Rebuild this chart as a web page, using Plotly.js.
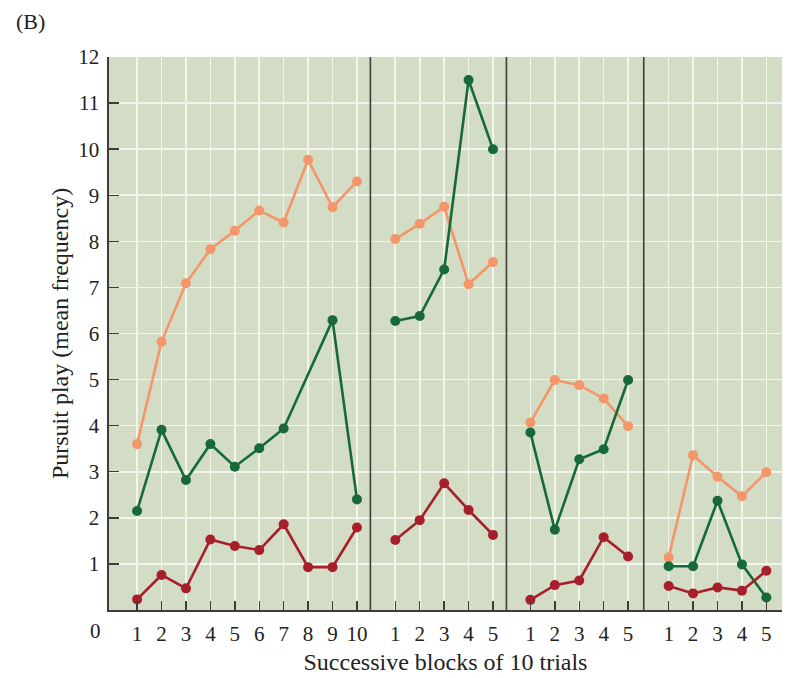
<!DOCTYPE html>
<html>
<head>
<meta charset="utf-8">
<script src="https://cdn.plot.ly/plotly-3.0.1.min.js"></script>
<style>html,body{margin:0;padding:0;background:#fff;}#chart{width:788px;height:678px;}</style>
</head>
<body>
<div id="chart"></div>
<script>
// Block labels for each of the four phases
var blocksA = [1,2,3,4,5,6,7,8,9,10];
var blocksB = [1,2,3,4,5];
var blocksC = [1,2,3,4,5];
var blocksD = [1,2,3,4,5];

// Series values per phase (mean frequency)
var orangeA = [3.6, 5.82, 7.09, 7.83, 8.23, 8.67, 8.41, 9.77, 8.74, 9.30];
var greenA  = [2.15, 3.91, 2.82, 3.60, 3.11, 3.51, 3.94, null, 6.29, 2.40];
var redA    = [0.23, 0.76, 0.47, 1.53, 1.39, 1.30, 1.86, 0.93, 0.93, 1.79];

var orangeB = [8.05, 8.38, 8.75, 7.07, 7.55];
var greenB  = [6.27, 6.38, 7.39, 11.50, 10.0];
var redB    = [1.52, 1.95, 2.75, 2.17, 1.63];

var orangeC = [4.07, 4.99, 4.88, 4.59, 3.99];
var greenC  = [3.85, 1.74, 3.27, 3.49, 4.99];
var redC    = [0.22, 0.54, 0.64, 1.58, 1.16];

var orangeD = [1.14, 3.36, 2.89, 2.47, 2.99];
var greenD  = [0.95, 0.95, 2.37, 0.99, 0.27];
var redD    = [0.52, 0.36, 0.49, 0.42, 0.85];

var yTicks = [1,2,3,4,5,6,7,8,9,10,11,12];

// Layout: horizontal offsets of each phase on the shared x axis
var offsets = [0, 10.57, 16.1, 21.76];
var separators = [10.55, 16.12, 21.74];

var COL_OR = '#F4956A', COL_GR = '#17693A', COL_RD = '#A61F2B';

var phases = [
  {b: blocksA, o: orangeA, g: greenA, r: redA},
  {b: blocksB, o: orangeB, g: greenB, r: redB},
  {b: blocksC, o: orangeC, g: greenC, r: redC},
  {b: blocksD, o: orangeD, g: greenD, r: redD}
];

var traces = [];
var tickvals = [], ticktext = [];
phases.forEach(function(p, i) {
  var xs = p.b.map(function(v){ return v + offsets[i]; });
  p.b.forEach(function(v, k){ tickvals.push(xs[k]); ticktext.push(String(v)); });
  [[p.o, COL_OR], [p.g, COL_GR], [p.r, COL_RD]].forEach(function(s) {
    traces.push({
      x: xs, y: s[0], type: 'scatter', mode: 'lines+markers',
      connectgaps: true,
      line: {color: s[1], width: 2.6},
      marker: {color: s[1], size: 10},
      showlegend: false, hoverinfo: 'skip'
    });
  });
});

var shapes = separators.map(function(s){
  return {type: 'line', xref: 'x', yref: 'paper', x0: s, x1: s, y0: 0, y1: 1,
          line: {color: '#3d3d3d', width: 1.6}};
});

var FONT = 'Liberation Serif, Times New Roman, serif';

var layout = {
  width: 788, height: 678,
  margin: {l: 109, r: 6, t: 57, b: 68},
  paper_bgcolor: '#ffffff',
  plot_bgcolor: '#D3DCC4',
  font: {family: FONT, color: '#222', size: 21},
  xaxis: {
    range: [-0.15, 27.4],
    tickvals: tickvals, ticktext: ticktext,
    showgrid: true, gridcolor: '#F3F5EC', gridwidth: 1.6,
    zeroline: false,
    showline: true, linecolor: '#3d3d3d', linewidth: 1.6,
    ticks: 'inside', ticklen: 9, tickwidth: 1.4, tickcolor: '#3d3d3d',
    tickfont: {family: FONT, size: 21, color: '#222'},
    ticklabelstandoff: 4,
    title: {text: 'Successive blocks of 10 trials', font: {family: FONT, size: 24, color: '#222'}, standoff: 8}
  },
  yaxis: {
    range: [0, 12],
    tickvals: yTicks,
    showgrid: true, gridcolor: '#F3F5EC', gridwidth: 1.6,
    zeroline: false,
    showline: true, linecolor: '#3d3d3d', linewidth: 1.6,
    ticks: 'inside', ticklen: 10, tickwidth: 1.4, tickcolor: '#3d3d3d',
    tickfont: {family: FONT, size: 21, color: '#222'},
    ticklabelstandoff: 4,
    title: {text: 'Pursuit play (mean frequency)', font: {family: FONT, size: 24, color: '#222'}, standoff: 3}
  },
  shapes: shapes,
  annotations: [
    {text: '0', xref: 'paper', yref: 'paper', x: 0, y: 0, xanchor: 'right', yanchor: 'top',
     xshift: -6, yshift: -7, showarrow: false, font: {family: FONT, size: 21, color: '#222'}},
    {text: '(B)', xref: 'paper', yref: 'paper', x: -0.141, y: 1.065, xanchor: 'left', yanchor: 'middle',
     showarrow: false, font: {family: FONT, size: 22, color: '#222'}}
  ]
};

Plotly.newPlot('chart', traces, layout, {staticPlot: true, displayModeBar: false});
</script>
</body>
</html>
